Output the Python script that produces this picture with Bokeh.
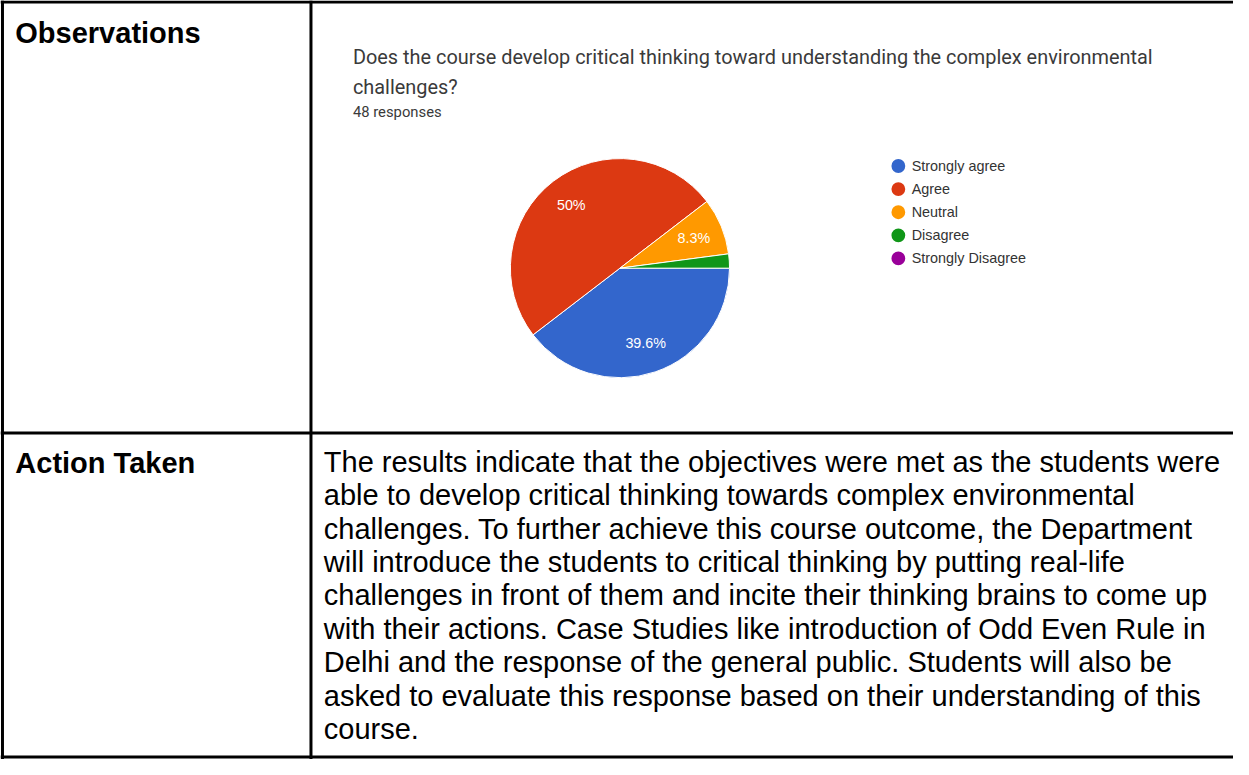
import math
from bokeh.plotting import figure
from bokeh.models import Range1d, Span, ColumnDataSource
from bokeh.core.properties import value
from bokeh.embed import file_html
from bokeh.resources import INLINE

# ---- data ----
categories = ["Strongly agree", "Agree", "Neutral", "Disagree", "Strongly Disagree"]
counts = [19, 24, 4, 1, 0]
colors = ["#3366cc", "#dc3912", "#ff9900", "#109618", "#990099"]
question_lines = ["Does the course develop critical thinking toward understanding the complex environmental",
                  "challenges?"]
responses_label = "48 responses"
row_headers = ["Observations", "Action Taken"]
action_lines = [
    "The results indicate that the objectives were met as the students were",
    "able to develop critical thinking towards complex environmental",
    "challenges. To further achieve this course outcome, the Department",
    "will introduce the students to critical thinking by putting real-life",
    "challenges in front of them and incite their thinking brains to come up",
    "with their actions. Case Studies like introduction of Odd Even Rule in",
    "Delhi and the response of the general public. Students will also be",
    "asked to evaluate this response based on their understanding of this",
    "course.",
]

# layout frame: reference is 1249 x 775, drawn into a 1233 x 759 figure
W_REF, H_REF = 1249, 775
W_PX, H_PX = 1233, 759
S = W_PX / W_REF  # font scale


def Y(v):
    return H_REF - v


def fs(px):
    return f"{px * S:.1f}px"


p = figure(width=W_PX, height=H_PX, output_backend="svg", toolbar_location=None,
           x_range=Range1d(0, W_REF), y_range=Range1d(0, H_REF),
           min_border=0, x_axis_location=None, y_axis_location=None)
p.grid.visible = False
p.outline_line_color = None
p.background_fill_color = "white"
p.border_fill_color = "white"

# ---- table borders ----
for loc in [2.0, 314.5]:
    p.add_layout(Span(location=loc, dimension="height", line_color="black", line_width=3))
for loc in [1.5, 441.5, 772.5]:
    p.add_layout(Span(location=Y(loc), dimension="width", line_color="black", line_width=3))

SANS = value("Liberation Sans")
ROBOTO = value("Roboto")
BODY = 29.4
CAP_MID = 0.36 * BODY  # baseline -> visual middle

# row headers
p.text(x=[15, 15], y=[Y(44 - CAP_MID), Y(483.3 - CAP_MID)], text=row_headers, text_font=SANS,
       text_font_size=fs(BODY), text_font_style="bold", text_color="black",
       text_baseline="middle", text_align="left")

# action text
base0, step = 481.7, 34.1
p.text(x=[327.5] * len(action_lines),
       y=[Y(base0 + step * i - CAP_MID) for i in range(len(action_lines))],
       text=action_lines, text_font=SANS, text_font_size=fs(BODY), text_color="black",
       text_baseline="middle", text_align="left")

# question title
p.text(x=[357, 357], y=[Y(58), Y(89)], text=question_lines, text_font=ROBOTO,
       text_font_size=fs(20.2), text_color="#3a3a3a", text_baseline="middle", text_align="left")
p.text(x=[357], y=[Y(114)], text=[responses_label], text_font=ROBOTO,
       text_font_size=fs(15), text_color="#3a3a3a", text_baseline="middle", text_align="left")

# ---- pie ----
cx, cy, r = 627.5, Y(273.3), 111
total = sum(counts)
starts, ends, mids, cols = [], [], [], []
cum = 0
for c, col in zip(counts, colors):
    a0 = -2 * math.pi * (cum + c) / total
    a1 = -2 * math.pi * cum / total
    cum += c
    if c <= 0:
        continue
    starts.append(a0)
    ends.append(a1)
    mids.append((a0 + a1) / 2)
    cols.append((c, col))
src = ColumnDataSource(dict(start=starts, end=ends, color=[cc[1] for cc in cols]))
p.wedge(x=cx, y=cy, radius=r, start_angle="start", end_angle="end",
        fill_color="color", line_color="white", line_width=1, source=src)

lx, ly, lt = [], [], []
for (c, _), m in zip(cols, mids):
    frac = c / total
    if frac >= 0.05:
        pct = f"{100 * frac:.1f}".rstrip("0").rstrip(".") + "%"
        lx.append(cx + 0.73 * r * math.cos(m))
        ly.append(cy + 0.73 * r * math.sin(m))
        lt.append(pct)
p.text(x=lx, y=ly, text=lt, text_font=SANS, text_font_size=fs(14.5), text_color="white",
       text_baseline="middle", text_align="center")

# ---- legend ----
ly0, lstep = 169.0, 23.6
leg_y = [Y(ly0 + lstep * i) for i in range(len(categories))]
p.scatter(x=[909.5] * len(categories), y=leg_y, size=14 * S, fill_color=colors, line_color=None)
p.text(x=[923] * len(categories), y=leg_y, text=categories, text_font=SANS,
       text_font_size=fs(14.6), text_color="#333333", text_baseline="middle", text_align="left")

open("out.html", "w").write(file_html(p, INLINE))
